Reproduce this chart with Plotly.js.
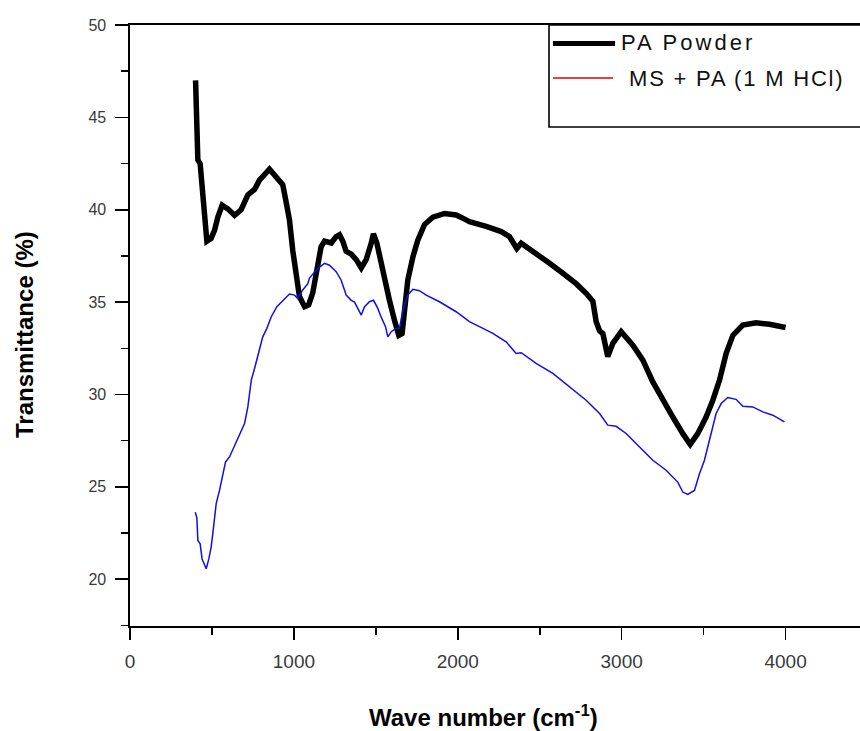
<!DOCTYPE html>
<html>
<head>
<meta charset="utf-8">
<script src="https://cdn.plot.ly/plotly-3.0.1.min.js"></script>
<style>
  html, body { margin: 0; padding: 0; background: #fff; }
  #chart { width: 860px; height: 731px; }
</style>
</head>
<body>
<div id="chart"></div>
<script>
// ---- Data ----
const paWave = [400, 402, 410, 414, 428, 440, 455, 469, 495, 516, 536, 562, 597, 638, 678, 719, 760, 790, 851, 892, 932, 953, 973, 993, 1014, 1034, 1065, 1090, 1115, 1146, 1166, 1187, 1228, 1258, 1278, 1298, 1319, 1350, 1380, 1411, 1441, 1472, 1485, 1506, 1532, 1559, 1583, 1614, 1640, 1660, 1675, 1695, 1726, 1756, 1797, 1848, 1919, 1990, 2051, 2071, 2173, 2265, 2315, 2360, 2387, 2478, 2560, 2641, 2722, 2783, 2824, 2844, 2865, 2885, 2915, 2946, 2997, 3068, 3129, 3190, 3251, 3312, 3373, 3418, 3464, 3515, 3556, 3597, 3637, 3678, 3739, 3820, 3902, 4000];
const paTrans = [47.0, 45.9, 45.8, 42.7, 42.5, 41.3, 39.8, 38.3, 38.45, 38.9, 39.6, 40.25, 40.05, 39.7, 40.0, 40.8, 41.1, 41.6, 42.2, 41.8, 41.35, 40.4, 39.45, 37.8, 36.4, 35.3, 34.75, 34.85, 35.5, 37.0, 38.0, 38.3, 38.2, 38.55, 38.65, 38.3, 37.75, 37.6, 37.3, 36.85, 37.3, 38.2, 38.7, 38.2, 37.1, 36.2, 35.1, 34.0, 33.2, 33.3, 34.75, 36.2, 37.45, 38.35, 39.2, 39.6, 39.8, 39.72, 39.45, 39.36, 39.1, 38.82, 38.55, 37.9, 38.19, 37.64, 37.1, 36.56, 36.0, 35.48, 35.05, 33.95, 33.45, 33.3, 32.05, 32.77, 33.4, 32.67, 31.86, 30.68, 29.69, 28.78, 27.88, 27.3, 27.88, 28.78, 29.69, 30.78, 32.22, 33.2, 33.76, 33.88, 33.8, 33.63];

const msWave = [398, 408, 414, 428, 440, 465, 481, 495, 505, 526, 546, 562, 583, 607, 638, 668, 699, 719, 740, 760, 786, 810, 835, 862, 896, 932, 973, 1004, 1024, 1054, 1085, 1095, 1146, 1187, 1217, 1258, 1288, 1319, 1350, 1370, 1390, 1411, 1431, 1461, 1486, 1512, 1532, 1559, 1573, 1594, 1624, 1644, 1665, 1695, 1726, 1766, 1807, 1888, 1990, 2071, 2132, 2214, 2295, 2356, 2387, 2478, 2580, 2681, 2783, 2865, 2915, 2966, 3027, 3109, 3190, 3271, 3342, 3373, 3403, 3444, 3475, 3505, 3536, 3576, 3607, 3647, 3698, 3739, 3800, 3861, 3922, 3993];
const msTrans = [23.63, 23.33, 22.1, 21.92, 21.1, 20.57, 21.1, 21.74, 22.46, 24.1, 24.81, 25.53, 26.35, 26.62, 27.25, 27.8, 28.43, 29.33, 30.78, 31.41, 32.31, 33.12, 33.58, 34.21, 34.75, 35.1, 35.44, 35.38, 35.2, 35.66, 36.0, 36.3, 36.83, 37.1, 37.0, 36.65, 36.2, 35.38, 35.1, 35.0, 34.66, 34.3, 34.75, 35.02, 35.1, 34.66, 34.2, 33.67, 33.12, 33.4, 33.58, 33.58, 34.57, 35.38, 35.69, 35.62, 35.38, 35.02, 34.48, 33.94, 33.67, 33.31, 32.85, 32.22, 32.26, 31.68, 31.14, 30.41, 29.69, 28.97, 28.34, 28.28, 27.89, 27.16, 26.44, 25.9, 25.26, 24.72, 24.59, 24.81, 25.72, 26.44, 27.52, 28.97, 29.51, 29.84, 29.74, 29.36, 29.33, 29.06, 28.88, 28.52];

const seriesNames = ["PA Powder", "MS + PA (1 M HCl)"];
const xTitle = "Wave number (cm<sup>-1</sup>)";
const yTitle = "Transmittance (%)";

// ---- Figure ----
const FONT = "Liberation Sans, Arial, Helvetica, sans-serif";
const ML = 130, MT = 25, W = 860, H = 731, MB = 105;
const plotW = W - ML, plotH = H - MT - MB;
const px = v => (v - ML) / plotW;          // page x -> paper x
const py = v => (H - MB - v) / plotH;      // page y -> paper y

const traces = [
  { x: paWave, y: paTrans, type: "scatter", mode: "lines", name: seriesNames[0],
    line: { color: "#000000", width: 5.5 }, showlegend: false },
  { x: msWave, y: msTrans, type: "scatter", mode: "lines", name: seriesNames[1],
    line: { color: "#1010e0", width: 1.5 }, showlegend: false }
];

const layout = {
  width: W, height: H,
  margin: { l: ML, r: 0, t: MT, b: MB, pad: 0 },
  paper_bgcolor: "#ffffff", plot_bgcolor: "#ffffff",
  font: { family: FONT, color: "#333333" },
  showlegend: false,
  xaxis: {
    range: [0, 4454], dtick: 1000, tick0: 0,
    showgrid: false, zeroline: false,
    showline: true, linecolor: "#000", linewidth: 1.6, mirror: true,
    ticks: "outside", ticklen: 12, tickwidth: 1.6, tickcolor: "#000",
    ticklabelstandoff: 6,
    tickfont: { family: FONT, size: 19, color: "#3a3a3a" },
    minor: { dtick: 500, ticks: "outside", ticklen: 7, tickwidth: 1.6, tickcolor: "#000", showgrid: false }
  },
  yaxis: {
    range: [17.47, 50], dtick: 5, tick0: 0,
    showgrid: false, zeroline: false,
    showline: true, linecolor: "#000", linewidth: 1.6,
    ticks: "outside", ticklen: 13, tickwidth: 1.6, tickcolor: "#000",
    ticklabelstandoff: 6,
    tickfont: { family: FONT, size: 16, color: "#3a3a3a" },
    minor: { dtick: 2.5, ticks: "outside", ticklen: 7, tickwidth: 1.6, tickcolor: "#000", showgrid: false }
  },
  shapes: [
    // legend box
    { type: "rect", xref: "paper", yref: "paper", x0: px(549), x1: 1.02, y0: py(127), y1: 1,
      line: { color: "#000", width: 1.6 }, fillcolor: "#ffffff", layer: "above" },
    // legend samples
    { type: "line", xref: "paper", yref: "paper", x0: px(553), x1: px(615), y0: py(43.5), y1: py(43.5),
      line: { color: "#000", width: 5 } },
    { type: "line", xref: "paper", yref: "paper", x0: px(553), x1: px(613), y0: py(78), y1: py(78),
      line: { color: "#e00000", width: 1.5 } }
  ],
  annotations: [
    { xref: "paper", yref: "paper", x: px(619), y: py(43), xanchor: "left", yanchor: "middle",
      showarrow: false, text: '<span style="letter-spacing:3px">' + seriesNames[0] + '</span>',
      font: { family: FONT, size: 22, color: "#111" } },
    { xref: "paper", yref: "paper", x: px(627), y: py(78), xanchor: "left", yanchor: "middle",
      showarrow: false, text: '<span style="letter-spacing:1.8px">' + seriesNames[1] + '</span>',
      font: { family: FONT, size: 22, color: "#111" } },
    { xref: "paper", yref: "paper", x: px(483), y: py(716), xanchor: "center", yanchor: "middle",
      showarrow: false, text: xTitle,
      font: { family: FONT, size: 24, color: "#000", weight: "bold" } },
    { xref: "paper", yref: "paper", x: px(24), y: py(335), xanchor: "center", yanchor: "middle",
      showarrow: false, text: yTitle, textangle: -90,
      font: { family: FONT, size: 24, color: "#000", weight: "bold" } }
  ]
};

Plotly.newPlot("chart", traces, layout, { displayModeBar: false, staticPlot: true });
</script>
</body>
</html>
